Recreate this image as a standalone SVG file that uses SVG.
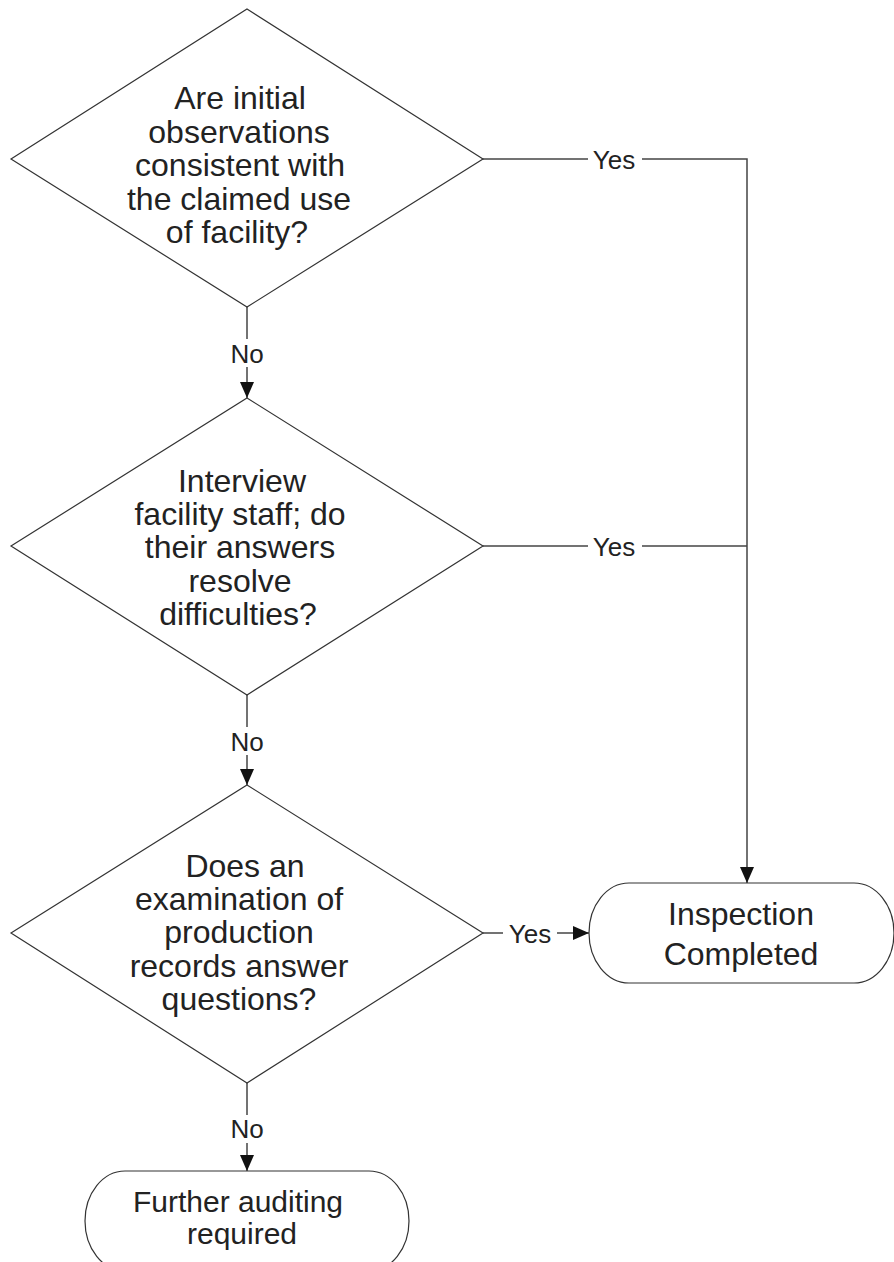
<svg xmlns="http://www.w3.org/2000/svg" width="894" height="1262" viewBox="0 0 894 1262">
<style>
.shape{fill:#fff;stroke:#333;stroke-width:1.2}
.conn{fill:none;stroke:#444;stroke-width:1.5}
.t{font-family:"Liberation Sans",Arial,sans-serif;font-size:32px;fill:#222;text-anchor:middle}
.t2{font-family:"Liberation Sans",Arial,sans-serif;font-size:30px;fill:#222;text-anchor:middle}
.lbl{font-family:"Liberation Sans",Arial,sans-serif;font-size:26px;fill:#222;text-anchor:middle}
</style>
<defs>
<marker id="arr" viewBox="0 0 16 14" refX="16" refY="7" markerWidth="16" markerHeight="14" markerUnits="userSpaceOnUse" orient="auto">
<path d="M0,0 L16,7 L0,14 Z" fill="#111"/>
</marker>
</defs>
<rect width="894" height="1262" fill="#fff"/>
<g id="connectors">
<path class="conn" d="M247,307 V339"/>
<path class="conn" d="M247,367 V398" marker-end="url(#arr)"/>
<path class="conn" d="M247,695 V727"/>
<path class="conn" d="M247,755 V785" marker-end="url(#arr)"/>
<path class="conn" d="M247,1083 V1115"/>
<path class="conn" d="M247,1143 V1171" marker-end="url(#arr)"/>
<path class="conn" d="M483,159 H588"/>
<path class="conn" d="M642,159 H747 V883" marker-end="url(#arr)"/>
<path class="conn" d="M483,546 H588"/>
<path class="conn" d="M642,546 H747"/>
<path class="conn" d="M483,933 H503"/>
<path class="conn" d="M557,933 H589" marker-end="url(#arr)"/>
<text class="lbl" x="247" y="363">No</text>
<text class="lbl" x="247" y="751">No</text>
<text class="lbl" x="247" y="1138">No</text>
<text class="lbl" x="614" y="169">Yes</text>
<text class="lbl" x="614" y="556">Yes</text>
<text class="lbl" x="530" y="943">Yes</text>
</g>
<g id="d1">
<polygon class="shape" points="247,9 483,159 247,307 11,159"/>
<text class="t" x="240" y="109">Are initial</text>
<text class="t" x="239" y="142.5">observations</text>
<text class="t" x="240" y="176">consistent with</text>
<text class="t" x="239" y="209.5">the claimed use</text>
<text class="t" x="237" y="243">of facility?</text>
</g>
<g id="d2">
<polygon class="shape" points="247,398 483,546 247,695 11,546"/>
<text class="t" x="242" y="491.5">Interview</text>
<text class="t" x="240" y="525">facility staff; do</text>
<text class="t" x="240" y="558">their answers</text>
<text class="t" x="240" y="591.5">resolve</text>
<text class="t" x="238" y="625">difficulties?</text>
</g>
<g id="d3">
<polygon class="shape" points="247,785 483,933 247,1083 11,933"/>
<text class="t" x="245" y="876.5">Does an</text>
<text class="t" x="239" y="910">examination of</text>
<text class="t" x="239" y="943">production</text>
<text class="t" x="239" y="977">records answer</text>
<text class="t" x="239" y="1010">questions?</text>
</g>
<g id="inspection">
<path class="shape" d="M629,883 H854 A40,50 0 0 1 854,983 H629 A40,50 0 0 1 629,883 Z"/>
<text class="t" x="741" y="925">Inspection</text>
<text class="t" x="741" y="965">Completed</text>
</g>
<g id="further">
<path class="shape" d="M125,1171 H369 A40,50 0 0 1 369,1271 H125 A40,50 0 0 1 125,1171 Z"/>
<text class="t2" x="238" y="1212">Further auditing</text>
<text class="t2" x="242" y="1244">required</text>
</g>
</svg>
